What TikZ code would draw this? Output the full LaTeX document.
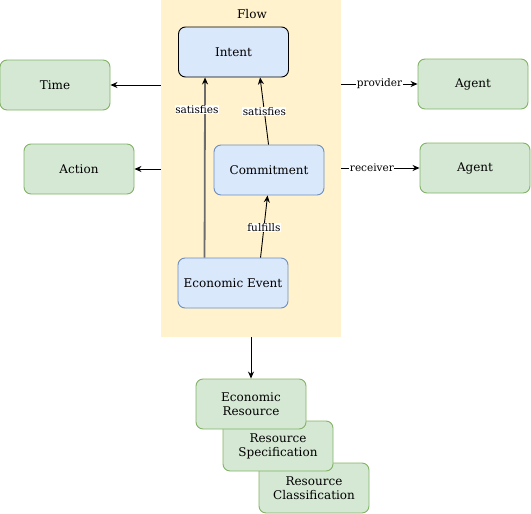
\documentclass[tikz,border=0pt]{standalone}
\usepackage{fontspec}
\setmainfont{DejaVu Serif}
\usetikzlibrary{arrows.meta}
\definecolor{flowfill}{HTML}{FFF2CC}
\definecolor{bluefill}{HTML}{DAE8FC}
\definecolor{blueline}{HTML}{6C8EBF}
\definecolor{greenfill}{HTML}{D5E8D4}
\definecolor{greenline}{HTML}{82B366}
\tikzset{
  box/.style={rounded corners=7pt, minimum width=110pt, minimum height=50pt, align=center, line width=0.9pt, font=\fontsize{12}{14}\selectfont},
  bluebox/.style={box, fill=bluefill, draw=blueline},
  greenbox/.style={box, fill=greenfill, draw=greenline},
  flowbox/.style={fill=flowfill, minimum width=180pt, minimum height=337pt, inner sep=0pt},
  lbl/.style={fill=white, inner sep=0.5pt, font=\fontsize{10.5}{12}\selectfont}
}
\begin{document}
\begin{tikzpicture}[x=1pt, y=-1pt, line width=0.9pt, >={Stealth[length=7pt,width=6pt]}]
  \useasboundingbox (0,0) rectangle (531,514);
  \node[flowbox] (flow) at (251,168.5) {};
  \node[font=\fontsize{12}{14}\selectfont] (flowlbl) at (252,14) {Flow};
  \node[bluebox, draw=black] (intent) at (233.5,52) {Intent};
  \node[bluebox] (commit) at (269,170) {Commitment};
  \node[bluebox] (event) at (233,283) {Economic Event};
  \node[greenbox] (time) at (55,85) {Time};
  \node[greenbox] (action) at (79,169) {Action};
  \node[greenbox] (agent1) at (473,84) {Agent};
  \node[greenbox] (agent2) at (475,168) {Agent};
  \node[greenbox] (class) at (314,488) {Resource\\Classification};
  \node[greenbox] (spec) at (278,446) {Resource\\Specification};
  \node[greenbox] (resource) at (251,404) {Economic\\Resource};
    % inside the flow
    \draw[-{Stealth[length=7pt,width=6pt,color=black]}, gray!85!black, line width=1.8pt] ([xshift=27pt]event.north west) -- ([xshift=27pt]intent.south west)
      node[lbl, pos=0.82, xshift=-8pt, text=black] {satisfies};
    \draw[->] ([xshift=55pt]commit.north west) -- ([xshift=82pt]intent.south west)
      node[lbl, pos=0.49] {satisfies};
    \draw[->] ([xshift=83pt]event.north west) -- ([xshift=54pt]commit.south west)
      node[lbl, pos=0.48] {fulfills};
    % out of the flow
    \draw[->] (flow.west |- time.east) -- (time.east);
    \draw[->] (flow.west |- action.east) -- (action.east);
    \draw[->] (flow.east |- agent1.west) -- (agent1.west)
      node[lbl, pos=0.5] {provider};
    \draw[->] (flow.east |- agent2.west) -- (agent2.west)
      node[lbl, pos=0.39] {receiver};
    \draw[->] (flow.south) -- (resource.north);
\end{tikzpicture}
\end{document}
